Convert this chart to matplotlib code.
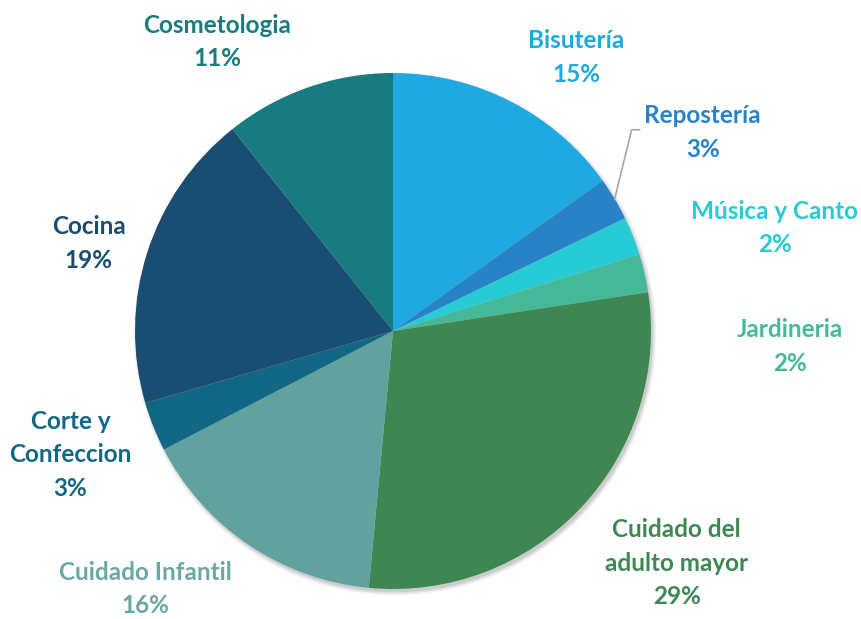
import matplotlib.pyplot as plt
import numpy as np

labels = ['Bisutería', 'Repostería', 'Música y Canto', 'Jardineria',
          'Cuidado del\nadulto mayor', 'Cuidado Infantil', 'Corte y\nConfeccion',
          'Cocina', 'Cosmetologia']
values = [15.1, 2.7, 2.4, 2.4, 28.9, 15.9, 3.1, 18.8, 10.7]
colors = ['#1FA9E1', '#2882C6', '#27CBD6', '#45B898', '#3E8752',
          '#62A29E', '#126784', '#1A4D72', '#187B80']
text_colors = ['#1FA9E1', '#2882C6', '#27CBD6', '#45B898', '#3E8752',
               '#6AA8A4', '#126784', '#1A4D72', '#187B80']
# label positions in units of the pie radius
label_pos = [(0.71, 1.06), (1.20, 0.77), (1.48, 0.40), (1.54, -0.06),
             (1.10, -0.90), (-0.96, -1.00), (-1.25, -0.48),
             (-1.18, 0.34), (-0.68, 1.12)]

plt.rcParams['font.family'] = ['Lato', 'DejaVu Sans']

fig = plt.figure(figsize=(8.62, 6.19), dpi=100)
ax = fig.add_axes([0, 0, 1, 1])

# soft shadow under the pie
for r, a in [(1.012, 0.05), (1.006, 0.07), (1.0, 0.09)]:
    ax.add_patch(plt.Circle((0.008, -0.012), r, color='k', alpha=a, lw=0, zorder=0))

wedges, _ = ax.pie(values, colors=colors, startangle=90, counterclock=False,
                   radius=1, wedgeprops=dict(linewidth=0))

for lab, v, c, (x, y) in zip(labels, values, text_colors, label_pos):
    ax.text(x, y, f'{lab}\n{round(v)}%', ha='center', va='center', color=c,
            fontsize=17.5, fontweight='bold', linespacing=1.55)

# leader line for Repostería
w = wedges[1]
ang = np.deg2rad((w.theta1 + w.theta2) / 2)
x0, y0 = np.cos(ang), np.sin(ang)
ax.plot([x0, 0.925, 0.955], [y0, 0.78, 0.78], color='#A6A6A6', lw=1.2)

ax.set_xlim(-393 / 258, (862 - 393) / 258)
ax.set_ylim(-(619 - 331) / 258, 331 / 258)
ax.set_aspect('equal')
ax.axis('off')

fig.savefig('out.png', dpi=100)
